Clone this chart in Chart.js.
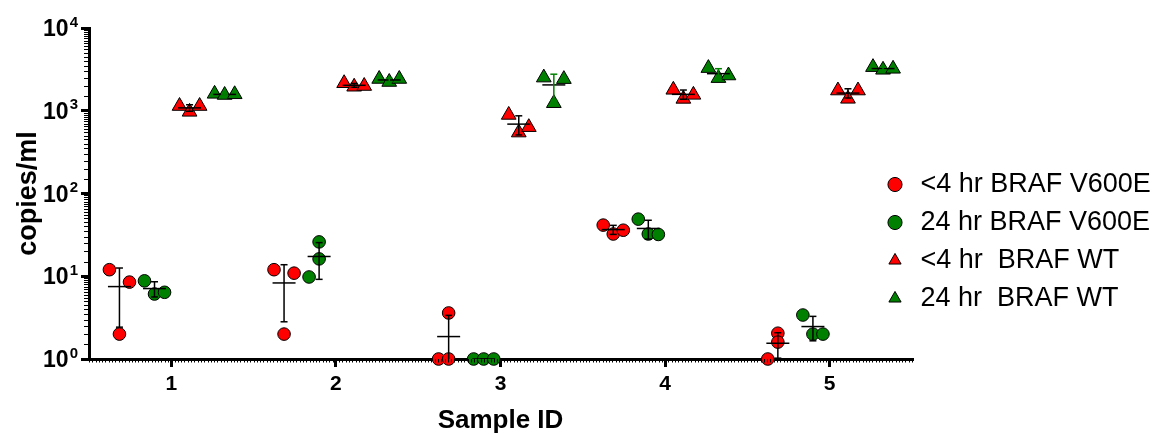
<!DOCTYPE html>
<html>
<head>
<meta charset="utf-8">
<script src="https://cdn.jsdelivr.net/npm/chart.js@4.4.1/dist/chart.umd.min.js"></script>
<style>
  html, body { margin: 0; padding: 0; background: #fff; }
  #wrap { width: 1167px; height: 434px; }
</style>
</head>
<body>
<div id="wrap"><canvas id="chart"></canvas></div>
<script>
const samples = [1, 2, 3, 4, 5];
const seriesNames = ['<4 hr BRAF V600E', '24 hr BRAF V600E', '<4 hr  BRAF WT', '24 hr  BRAF WT'];

// three replicates per sample, copies/ml
const redV600E = [[12, 2, 8.5], [12, 2, 10.9], [1, 1, 3.6], [41.5, 32.4, 36], [1, 2.05, 1.6]];
const greenV600E = [[8.8, 6.1, 6.4], [9.8, 26, 16.2], [1, 1, 1], [49, 32.4, 32], [3.4, 2, 2]];
const redWT = [[1140, 970, 1140], [2150, 1950, 1990], [890, 545, 633], [1790, 1390, 1556], [1755, 1393, 1755]];
const greenWT = [[1600, 1550, 1580], [2420, 2225, 2420], [2515, 1233, 2410], [3275, 2478, 2666], [3365, 3125, 3212]];

// scatter slot of each replicate inside its column (-1 left, 0 middle, 1 right)
const redV600ESlots = [[-1, 0, 1], [-1, 0, 1], [-1, 0, 0], [-1, 0, 1], [-1, 0, 0]];
const greenV600ESlots = [[-1, 0, 1], [-1, 0, 0], [-1, 0, 1], [-1, 0, 1], [-1, 0, 1]];
const redWTSlots = [[-1, 0, 1], [-1, 0, 1], [-1, 0, 1], [-1, 0, 1], [-1, 0, 1]];
const greenWTSlots = [[-1, 0, 1], [-1, 0, 1], [-1, 0, 1], [-1, 0, 1], [-1, 0, 1]];

const yTicks = [1, 10, 100, 1000, 10000];
const xTicks = [1, 2, 3, 4, 5];

const colOffset = [-0.315, -0.102, 0.111, 0.324];
const jitter = 0.061;
const RED = '#ff0000', GREEN = '#008000';
const FONT = '"Liberation Sans", Arial, sans-serif';

function mean(a) { return a.reduce((s, v) => s + v, 0) / a.length; }
function sd(a) {
  const m = mean(a);
  return Math.sqrt(a.reduce((s, v) => s + (v - m) * (v - m), 0) / (a.length - 1));
}

function scatterPoints(vals, slots, col) {
  const out = [];
  vals.forEach((reps, i) => {
    reps.forEach((v, j) => out.push({ x: samples[i] + colOffset[col] + slots[i][j] * jitter, y: v }));
  });
  return out;
}

// mean +/- SD as a vertical segment; null breaks the line between samples
function barPoints(vals, col) {
  const out = [];
  vals.forEach((reps, i) => {
    const x = samples[i] + colOffset[col];
    const m = mean(reps), s = sd(reps);
    out.push({ x: x, y: Math.max(m - s, 1), clipped: m - s <= 1 }, { x: x, y: m + s }, { x: x, y: null });
  });
  return out;
}

function meanPoints(vals, col) {
  return vals.map((reps, i) => ({ x: samples[i] + colOffset[col], y: mean(reps) }));
}

const series = [
  { vals: redV600E, slots: redV600ESlots, color: RED, style: 'circle', r: 6.3, bar: '#000' },
  { vals: greenV600E, slots: greenV600ESlots, color: GREEN, style: 'circle', r: 6.3, bar: '#000' },
  { vals: redWT, slots: redWTSlots, color: RED, style: 'triangle', r: 8.5, bar: '#000' },
  { vals: greenWT, slots: greenWTSlots, color: GREEN, style: 'triangle', r: 8.5, bar: GREEN }
];

const datasets = [];
series.forEach((s, k) => {
  datasets.push({
    label: seriesNames[k],
    data: scatterPoints(s.vals, s.slots, k),
    pointStyle: s.style,
    pointRadius: s.r,
    backgroundColor: s.color,
    borderColor: '#000',
    borderWidth: 1,
    clip: false,
    order: 1
  });
});
series.forEach((s, k) => {
  datasets.push({
    label: 'sd',
    data: barPoints(s.vals, k),
    showLine: true,
    spanGaps: false,
    borderColor: s.bar,
    borderWidth: 1.5,
    pointStyle: 'line',
    pointRadius: c => (c.raw && c.raw.clipped) ? 0 : 3.5,
    pointBorderColor: s.bar,
    pointBorderWidth: 1.5,
    order: 0
  });
  datasets.push({
    label: 'mean',
    data: meanPoints(s.vals, k),
    pointStyle: 'line',
    pointRadius: 11.5,
    pointBorderColor: '#000',
    pointBorderWidth: 1.5,
    order: 0
  });
});

// Prism-style dense minor ticks
const minorTicks = {
  id: 'minorTicks',
  afterDraw(chart) {
    const { ctx, chartArea } = chart;
    const x = chart.scales.x, y = chart.scales.y;
    ctx.save();
    ctx.strokeStyle = '#000';
    ctx.lineWidth = 1;
    ctx.beginPath();
    for (let v = 0.5; v <= 5.5001; v += 0.02) {
      const px = Math.round(x.getPixelForValue(v)) + 0.5;
      ctx.moveTo(px, chartArea.bottom);
      ctx.lineTo(px, chartArea.bottom + 3.5);
    }
    for (let d = 1; d < 10000; d *= 10) {
      for (let m = 1.5; m < 10; m += 0.5) {
        const py = Math.round(y.getPixelForValue(d * m)) + 0.5;
        ctx.moveTo(chartArea.left, py);
        ctx.lineTo(chartArea.left - 5, py);
      }
    }
    ctx.stroke();
    ctx.restore();
  }
};

// y labels as 10 with a raised exponent
const powerLabels = {
  id: 'powerLabels',
  afterDraw(chart) {
    const ctx = chart.ctx, y = chart.scales.y;
    const right = chart.chartArea.left - 11;
    ctx.save();
    ctx.fillStyle = '#000';
    ctx.textAlign = 'right';
    ctx.textBaseline = 'alphabetic';
    yTicks.forEach(v => {
      const py = y.getPixelForValue(v);
      const exp = String(Math.round(Math.log10(v)));
      ctx.font = 'bold 15px ' + FONT;
      const ew = ctx.measureText(exp).width;
      ctx.fillText(exp, right, py - 1.5);
      ctx.font = 'bold 23px ' + FONT;
      ctx.fillText('10', right - ew - 1, py + 8);
    });
    ctx.restore();
  }
};

// legend sits over the right end of the x axis, as in the original
const legendPlace = {
  id: 'legendPlace',
  afterLayout(chart) {
    const l = chart.legend;
    l.left = chart.chartArea.right - 40;
    l.right = 1167;
    l.width = l.right - l.left;
    l.top = 160;
    l.bottom = 434;
  }
};

Chart.defaults.font.family = FONT;
Chart.defaults.color = '#000';

new Chart(document.getElementById('chart'), {
  type: 'scatter',
  data: { datasets: datasets },
  options: {
    responsive: true,
    maintainAspectRatio: false,
    animation: false,
    events: [],
    layout: { padding: { left: 5, top: 28, right: 0, bottom: 0 } },
    plugins: {
      tooltip: { enabled: false },
      legend: {
        position: 'right',
        align: 'start',
        maxWidth: 255,
        labels: {
          usePointStyle: true,
          boxWidth: 24,
          boxHeight: 10,
          padding: 11,
          font: { size: 27 },
          color: '#000',
          filter: item => item.datasetIndex < 4
        }
      }
    },
    scales: {
      x: {
        type: 'linear',
        min: 0.5,
        max: 5.5,
        afterBuildTicks: s => { s.ticks = xTicks.map(v => ({ value: v })); },
        afterFit: s => { s.height = 75; },
        border: { color: '#000', width: 3 },
        grid: { drawOnChartArea: false, color: '#000', lineWidth: 3, tickLength: 8 },
        ticks: { font: { size: 21, weight: 'bold' }, padding: 5 },
        title: { display: true, text: 'Sample ID', font: { size: 26, weight: 'bold', lineHeight: 1 }, padding: 0 }
      },
      y: {
        type: 'logarithmic',
        min: 1,
        max: 10000,
        afterBuildTicks: s => { s.ticks = yTicks.map(v => ({ value: v })); },
        afterFit: s => { s.width = 84; },
        border: { color: '#000', width: 3 },
        grid: { drawOnChartArea: false, color: '#000', lineWidth: 3, tickLength: 8 },
        ticks: { display: false },
        title: { display: true, text: 'copies/ml', font: { size: 27, weight: 'bold', lineHeight: 1 }, padding: { top: 10, bottom: 0 } }
      }
    }
  },
  plugins: [minorTicks, powerLabels, legendPlace]
});
</script>
</body>
</html>
